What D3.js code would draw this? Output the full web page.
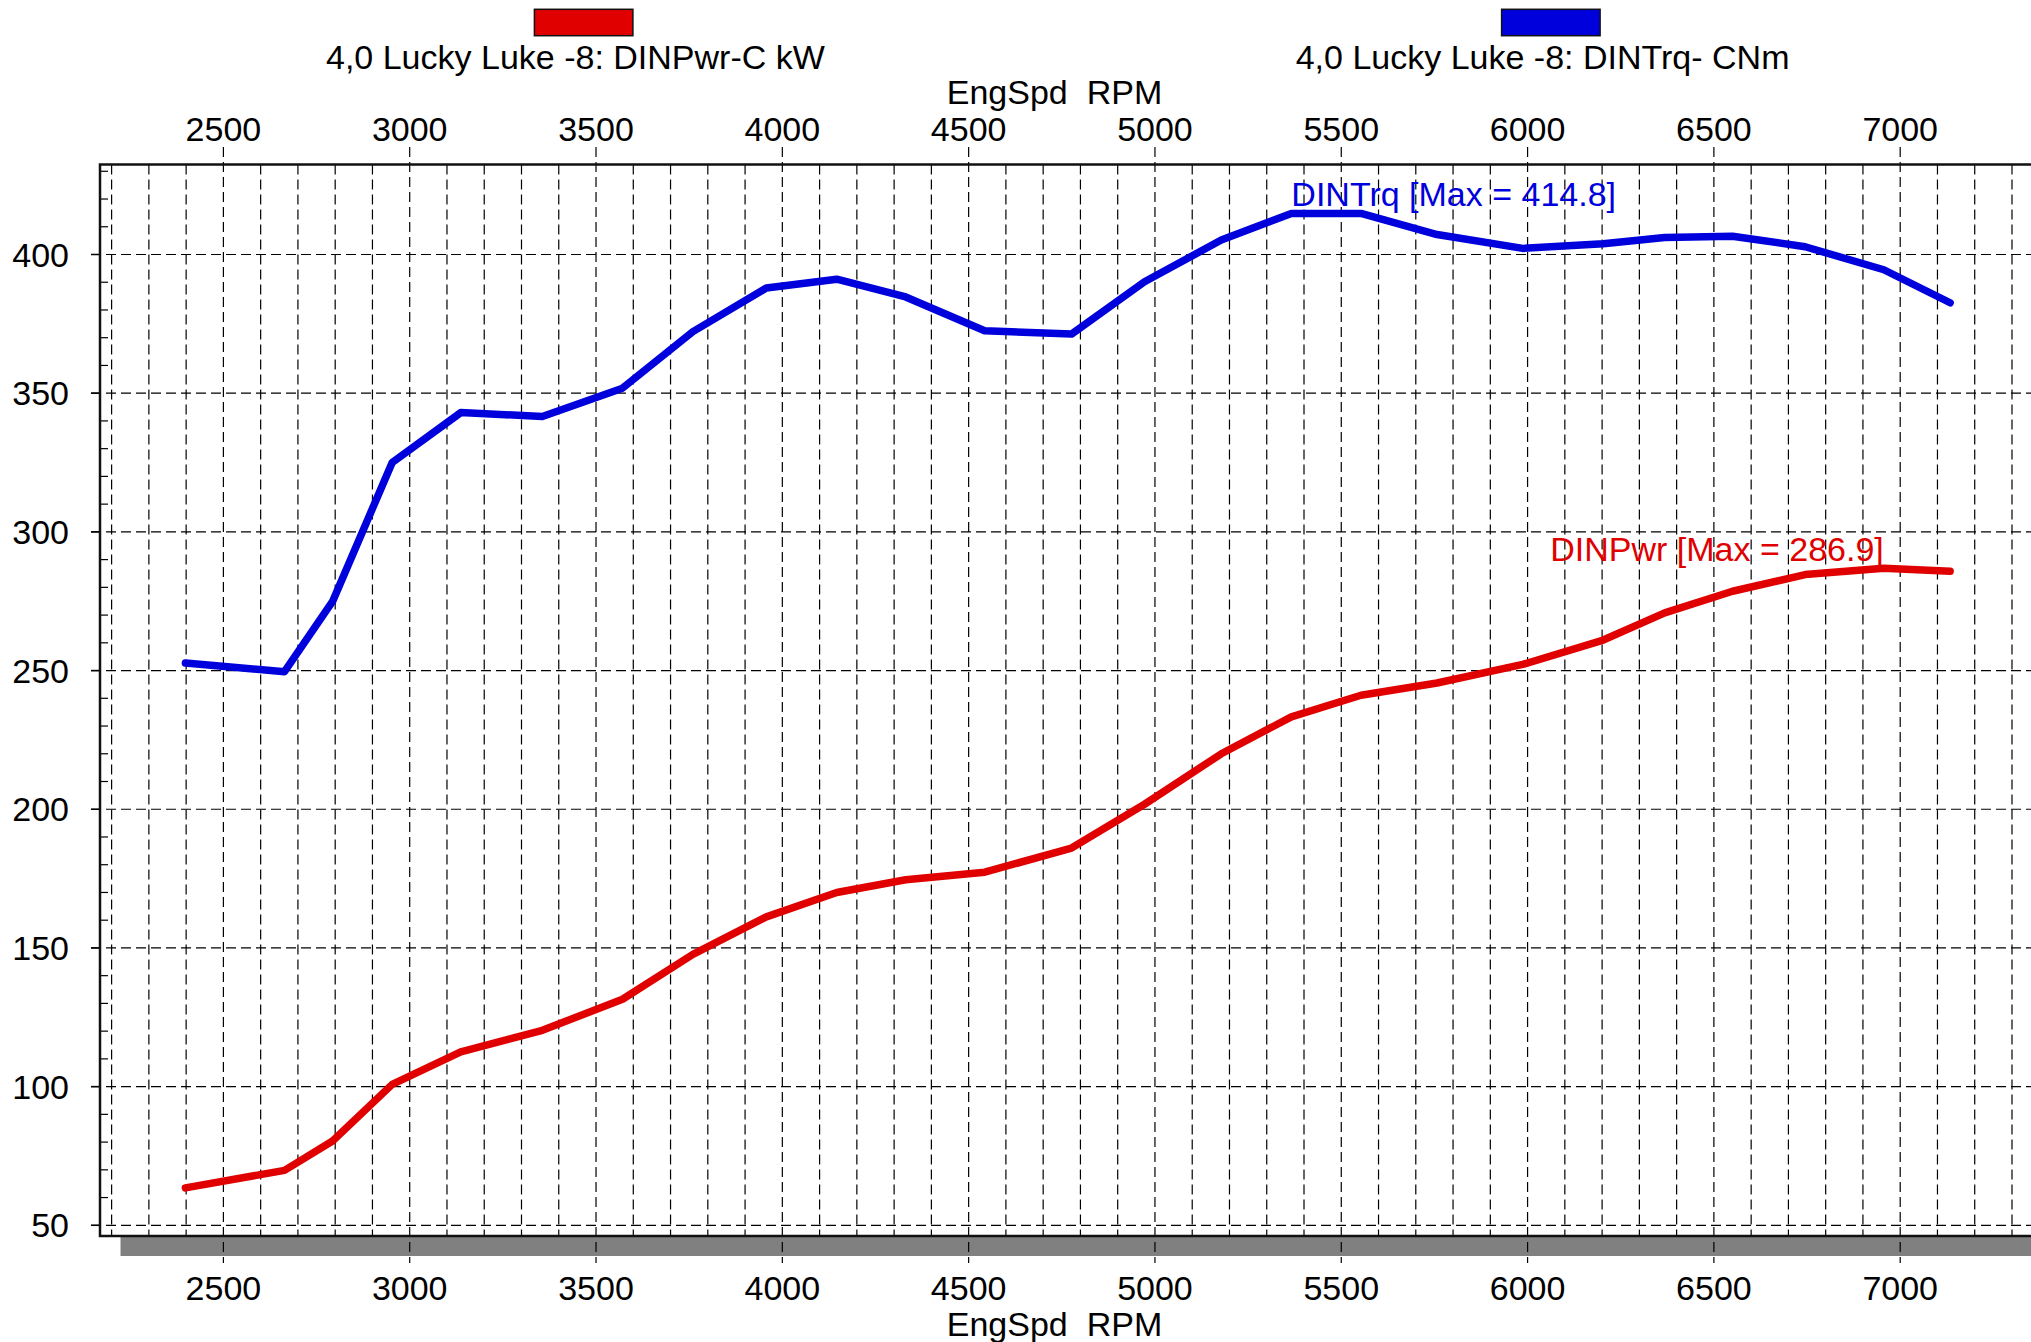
<!DOCTYPE html>
<html>
<head>
<meta charset="utf-8">
<script src="https://d3js.org/d3.v7.min.js"></script>
<style>
    body { margin: 0; background: #fff; }
    text { font-family: "Liberation Sans", Arial, sans-serif; }
</style>
</head>
<body>
<div id="chart"></div>
<script>

// dyno run
var rpm = [2398, 2664, 2793, 2953, 3137, 3356, 3571, 3760, 3957, 4146, 4331, 4543, 4776,
    4972, 5178, 5366, 5553, 5757, 5987, 6203, 6368, 6550, 6745, 6956, 7134];
var torque = [252.7, 249.6, 274.9, 325.0, 343.0, 341.6, 351.8, 372.2, 387.9, 391.1, 384.7, 372.5, 371.3,
    390.2, 405.2, 414.8, 414.8, 407.2, 402.2, 403.9, 406.1, 406.6, 402.8, 394.5, 382.6];
var power = [63.5, 69.8, 80.4, 100.8, 112.5, 120.3, 131.5, 147.7, 161.2, 170.0, 174.6, 177.3, 186.0,
    201.8, 220.0, 233.3, 241.1, 245.5, 252.2, 261.0, 270.8, 278.6, 284.6, 286.9, 285.8];

var xTicks = [2500, 3000, 3500, 4000, 4500, 5000, 5500, 6000, 6500, 7000];
var yTicks = [50, 100, 150, 200, 250, 300, 350, 400];
var legendNames = ['4,0 Lucky Luke -8: DINPwr-C kW', '4,0 Lucky Luke -8: DINTrq- CNm'];
var axisTitle = 'EngSpd  RPM';

var width = 2031,
    height = 1342;
var plotLeft = 100,
    plotTop = 164.5,
    plotBottom = 1236;
var red = '#e00000',
    blue = '#0000dc';
var fontSize = '34px';

var svg = d3.select('#chart').append('svg')
    .attr('width', width)
    .attr('height', height);

var x = d3.scaleLinear().domain([2500, 7000]).range([223.4, 1900.2]);
var y = d3.scaleLinear().domain([50, 400]).range([1225.3, 254.5]);

// minor grid every 100 rpm / 10 units
var xMinor = d3.range(2200, 7400, 100).filter(function (v) { return v % 500 != 0; });
var yMinor = d3.range(50, 440, 10).filter(function (v) { return v % 50 != 0 && y(v) > plotTop; });

var grid = svg.append('g')
    .attr('stroke', '#000')
    .attr('stroke-width', 1.2)
    .attr('stroke-dasharray', '10,5');

grid.selectAll('.vminor')
    .data(xMinor)
    .enter()
    .append('line')
    .attr('x1', function (d) { return x(d); })
    .attr('x2', function (d) { return x(d); })
    .attr('y1', plotTop)
    .attr('y2', plotBottom);

grid.selectAll('.hmajor')
    .data(yTicks)
    .enter()
    .append('line')
    .attr('x1', plotLeft - 9)
    .attr('x2', width)
    .attr('y1', function (d) { return y(d); })
    .attr('y2', function (d) { return y(d); });

// gray strip under the plot
svg.append('rect')
    .attr('x', 120.5)
    .attr('y', plotBottom + 1)
    .attr('width', width - 120.5)
    .attr('height', 19)
    .attr('fill', '#808080');

// major rpm lines run past the frame on both sides
svg.append('g')
    .attr('stroke', '#000')
    .attr('stroke-width', 1.2)
    .attr('stroke-dasharray', '10,5')
    .selectAll('line')
    .data(xTicks)
    .enter()
    .append('line')
    .attr('x1', function (d) { return x(d); })
    .attr('x2', function (d) { return x(d); })
    .attr('y1', 147)
    .attr('y2', 1263);

// y ticks
svg.selectAll('.ytick')
    .data(yTicks)
    .enter()
    .append('line')
    .attr('x1', plotLeft - 9)
    .attr('x2', plotLeft)
    .attr('y1', function (d) { return y(d); })
    .attr('y2', function (d) { return y(d); })
    .attr('stroke', '#000')
    .attr('stroke-width', 1.5);

svg.selectAll('.yminor')
    .data(yMinor)
    .enter()
    .append('line')
    .attr('x1', plotLeft)
    .attr('x2', plotLeft + 8)
    .attr('y1', function (d) { return y(d); })
    .attr('y2', function (d) { return y(d); })
    .attr('stroke', '#000')
    .attr('stroke-width', 1.2);

// frame: left, top, bottom
svg.append('path')
    .attr('d', 'M' + width + ',' + plotTop + 'H' + plotLeft + 'V' + plotBottom + 'H' + width)
    .attr('fill', 'none')
    .attr('stroke', '#111')
    .attr('stroke-width', 2.5);

// curves
var line = d3.line()
    .x(function (d) { return x(d[0]); })
    .y(function (d) { return y(d[1]); });

var series = [
    { values: d3.zip(rpm, torque), color: blue },
    { values: d3.zip(rpm, power), color: red }
];

svg.selectAll('.curve')
    .data(series)
    .enter()
    .append('path')
    .attr('d', function (d) { return line(d.values); })
    .attr('fill', 'none')
    .attr('stroke', function (d) { return d.color; })
    .attr('stroke-width', 7.5)
    .attr('stroke-linecap', 'round')
    .attr('stroke-linejoin', 'round');

// max labels
var tMax = d3.max(torque),
    tIdx = torque.indexOf(tMax);
var pMax = d3.max(power),
    pIdx = power.indexOf(pMax);

svg.append('text')
    .attr('x', x(rpm[tIdx]))
    .attr('y', y(tMax) - 7.5)
    .attr('fill', blue)
    .style('font-size', fontSize)
    .text('DINTrq [Max = ' + tMax.toFixed(1) + ']');

svg.append('text')
    .attr('x', x(rpm[pIdx]))
    .attr('y', y(pMax) - 7.5)
    .attr('text-anchor', 'end')
    .attr('fill', red)
    .style('font-size', fontSize)
    .text('DINPwr [Max = ' + pMax.toFixed(1) + ']');

// tick labels
svg.selectAll('.ylab')
    .data(yTicks)
    .enter()
    .append('text')
    .attr('x', 69)
    .attr('y', function (d) { return y(d) + 12; })
    .attr('text-anchor', 'end')
    .style('font-size', fontSize)
    .text(function (d) { return d; });

[141, 1300].forEach(function (base) {
    svg.selectAll('.xlab' + base)
        .data(xTicks)
        .enter()
        .append('text')
        .attr('x', function (d) { return x(d); })
        .attr('y', base)
        .attr('text-anchor', 'middle')
        .style('font-size', fontSize)
        .text(function (d) { return d; });
});

[104, 1336].forEach(function (base) {
    svg.append('text')
        .attr('x', 1054.5)
        .attr('y', base)
        .attr('text-anchor', 'middle')
        .style('font-size', fontSize)
        .style('white-space', 'pre')
        .text(axisTitle);
});

// legend
var legend = [
    { name: legendNames[0], color: red, x: 534.4 },
    { name: legendNames[1], color: blue, x: 1501.6 }
];

var lg = svg.selectAll('.legend')
    .data(legend)
    .enter()
    .append('g');

lg.append('rect')
    .attr('x', function (d) { return d.x; })
    .attr('y', 9.3)
    .attr('width', 98.5)
    .attr('height', 26.4)
    .attr('fill', function (d) { return d.color; })
    .attr('stroke', '#111')
    .attr('stroke-width', 1.5);

lg.append('text')
    .attr('x', function (d) { return d.x + 41; })
    .attr('y', 69)
    .attr('text-anchor', 'middle')
    .style('font-size', fontSize)
    .text(function (d) { return d.name; });

</script>
</body>
</html>
